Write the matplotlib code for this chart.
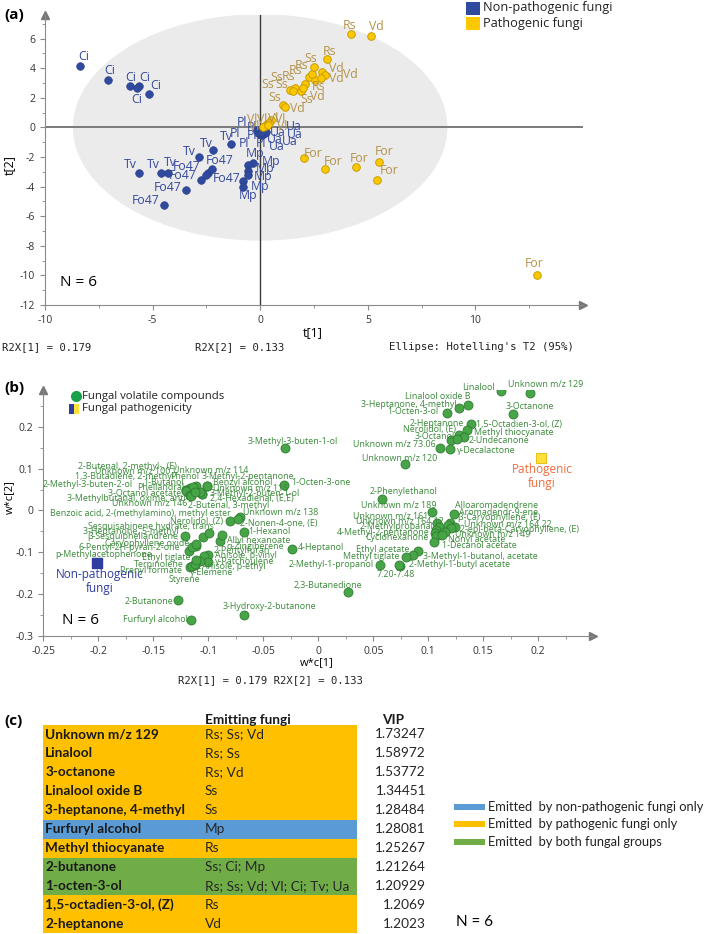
import numpy as np
import matplotlib
matplotlib.use('Agg')
import matplotlib.pyplot as plt
from matplotlib.patches import Ellipse, Rectangle
from matplotlib.ticker import FixedLocator

plt.rcParams.update({'font.family': ['Open Sans', 'DejaVu Sans'],
                     'axes.unicode_minus': False})

W, H = 707, 934

# ---------------- (a) PLS-DA scores ----------------
a_species = (['Ci'] * 6 + ['Tv'] * 6 + ['Fo47'] * 6 + ['Mp'] * 6 + ['Pl'] * 6 + ['Ua'] * 6
             + ['Rs'] * 6 + ['Ss'] * 6 + ['Vd'] * 6 + ['Vl'] * 6 + ['For'] * 6)
a_pathogenic = [0] * 36 + [1] * 30
a_t1 = [-8.37, -7.06, -6.03, -5.61, -5.18, -5.73,
        -5.65, -4.62, -4.30, -2.86, -2.20, -1.35,
        -2.74, -2.44, -2.23, -2.51, -3.47, -4.48,
        -0.34, -0.58, -0.58, -0.58, -0.81, -0.81,
        -0.15, -0.05, 0.00, -0.10, 0.05, -0.05,
        0.10, 0.20, 0.15, 0.10, 0.25, 0.05,
        4.20, 3.12, 2.29, 2.06, 2.55, 2.40,
        2.49, 1.60, 1.40, 1.52, 1.90, 1.05,
        5.16, 2.88, 3.00, 2.84, 2.00, 1.13,
        0.20, 0.51, 0.30, 0.40, 0.15, 0.35,
        2.03, 2.99, 4.45, 5.50, 5.44, 12.87]
a_t2 = [4.15, 3.22, 2.77, 2.77, 2.28, 2.70,
        -3.10, -3.06, -3.06, -2.00, -1.55, -1.10,
        -3.53, -3.08, -2.79, -3.20, -4.26, -5.27,
        -2.40, -2.57, -2.97, -3.20, -3.65, -4.03,
        -0.20, -0.30, -0.45, -0.35, -0.25, -0.15,
        -0.30, -0.40, -0.20, -0.50, -0.30, -0.35,
        6.31, 4.62, 3.40, 2.95, 3.20, 3.60,
        4.10, 2.66, 2.55, 2.48, 2.48, 1.51,
        6.17, 3.74, 3.55, 3.36, 2.70, 1.38,
        0.10, 0.47, 0.20, 0.30, 0.05, 0.15,
        -2.07, -2.81, -2.65, -2.36, -3.53, -9.95]
# label offsets in pixels (x right, y down) -- layout only
a_off = [(4, -10), (1, -9), (0, -9), (5, -9), (7, -8), (0, 12),
         (-8, -9), (-7, -8), (3, -10), (-9, -6), (-7, -7), (-5, -7),
         (25, -1), (12, -13), (-26, -2), (-24, 1), (-18, -3), (-18, -5),
         (2, -9), (23, -4), (17, -3), (15, 2), (17, 5), (5, 8),
         (-15, -8), (-7, -4), (-25, -1), (-6, 3), (-17, 12), (2, 14),
         (31, -5), (30, 1), (14, 2), (27, 7), (9, 8), (15, 14),
         (-1, -9), (2, -8), (-8, -12), (-16, -7), (3, 6), (-16, -4),
         (-3, -8), (-18, -11), (-23, -5), (-11, -6), (6, 9), (-8, -8),
         (5, -10), (14, -4), (26, 0), (15, 1), (14, 9), (13, 1),
         (-12, -6), (9, -1), (-4, -5), (4, -5), (-9, 0), (14, 1),
         (9, -5), (9, -8), (3, -8), (6, -11), (12, -9), (-3, -11)]

# ---------------- (b) loadings ----------------
b_names = ['Unknown m/z 129', 'Linalool', 'Linalool oxide B', '3-Heptanone, 4-methyl', '1-Octen-3-ol',
           '3-Octanone', '2-Heptanone', '1,5-Octadien-3-ol, (Z)', 'Nerolidol, (E)', 'Methyl thiocyanate',
           '3-Octanol', '2-Undecanone', 'Unknown m/z 73.06', 'γ-Decalactone', 'Unknown m/z 120',
           '2-Phenylethanol', 'Unknown m/z 189', 'Alloaromadendrene', 'Aromadendr-9-ene', 'Unknown m/z 161',
           'β-Caryophyllene, (E)', 'Unknown m/z 164.12', 'Unknown m/z 164.22', '2-Methylpropanal',
           '2-epi-beta-Caryophyllene, (E)', '4-Methyl-2-pentanone', 'Unknown m/z 149', 'Cyclohexanone',
           'Nonyl acetate', '1-Decanol acetate', 'Ethyl acetate', '3-Methyl-1-butanol, acetate',
           'Methyl tiglate', '2-Methyl-1-propanol', '2-Methyl-1-butyl acetate', '7.20-7.48',
           '2,3-Butanedione', '3-Methyl-3-buten-1-ol', '1-Octen-3-one', 'Unknown m/z 138', 'Nerolidol, (Z)',
           '2-Nonen-4-one, (E)', '1-Hexanol', 'Allyl hexanoate', 'α-Zingiberene', '4-Heptanol',
           '2-Pentylfuran', 'Anisole, p-vinyl', 'γ-Patchoulene', 'Anisole, p-ethyl', 'γ-Elemene', 'Styrene',
           'Terpinolene', 'Prenyl formate', 'Ethyl tiglate', 'p-Methylacetophenone', '6-Pentyl-2H-pyran-2-one',
           'Caryophyllene oxide', 'β-Sesquiphellandrene', '3-Heptanone, 5-methyl',
           'Sesquisabinene hydrate, trans', 'Benzoic acid, 2-(methylamino), methyl ester',
           '2-Butenal, 2-methyl-, (E)', 'Unknown m/z 100', 'Unknown m/z 114', '1,3-Butadiene, 2-methyl',
           'Phenol', '3-Methyl-2-pentanone', '2-Methyl-3-buten-2-ol', '1-Butanol', 'Benzyl alcohol',
           'Phellandral', 'Unknown m/z 115', '3-Octanol acetate', '3-Methyl-2-buten-1-ol',
           '3-Methylbutanal, oxime, anti', '2,4-Hexadienal, (E,E)', 'Unknown m/z 146', '2-Butenal, 3-methyl',
           '2-Butanone', 'Furfuryl alcohol', '3-Hydroxy-2-butanone']
b_w1 = [0.192, 0.166, 0.136, 0.128, 0.117, 0.177, 0.139, 0.135, 0.128, 0.132,
        0.121, 0.126, 0.111, 0.120, 0.079, 0.058, 0.103, 0.123, 0.120, 0.108,
        0.118, 0.110, 0.124, 0.107, 0.121, 0.106, 0.115, 0.107, 0.112, 0.105,
        0.091, 0.086, 0.080, 0.056, 0.074, 0.073, 0.027, -0.030, -0.031, -0.071,
        -0.080, -0.073, -0.068, -0.089, -0.088, -0.024, -0.100, -0.104, -0.100, -0.108,
        -0.112, -0.117, -0.115, -0.112, -0.111, -0.118, -0.111, -0.115, -0.111, -0.121,
        -0.105, -0.099, -0.117, -0.114, -0.111, -0.120, -0.117, -0.101, -0.120, -0.114,
        -0.101, -0.120, -0.106, -0.117, -0.106, -0.117, -0.108, -0.116, -0.112,
        -0.128, -0.116, -0.068]
b_w2 = [0.282, 0.286, 0.252, 0.244, 0.234, 0.230, 0.206, 0.193, 0.180, 0.176,
        0.168, 0.172, 0.149, 0.146, 0.110, 0.028, -0.004, -0.008, -0.030, -0.030,
        -0.035, -0.040, -0.040, -0.047, -0.042, -0.053, -0.052, -0.062, -0.058, -0.075,
        -0.098, -0.106, -0.112, -0.130, -0.132, -0.131, -0.196, 0.149, 0.062, -0.016,
        -0.024, -0.020, -0.052, -0.074, -0.058, -0.092, -0.106, -0.108, -0.122, -0.120,
        -0.130, -0.134, -0.132, -0.128, -0.118, -0.098, -0.084, -0.088, -0.080, -0.062,
        -0.064, -0.054, 0.054, 0.052, 0.058, 0.048, 0.038, 0.058, 0.050, 0.055,
        0.058, 0.046, 0.040, 0.038, 0.040, 0.036, 0.045, 0.034, 0.044,
        -0.214, -0.262, -0.249]
# label anchor (left, centre) in axis units -- layout only
b_lab_x = [0.172, 0.131, 0.079, 0.0385, 0.0627, 0.1706, 0.0834, 0.143, 0.0767, 0.1415,
           0.0879, 0.137, 0.0318, 0.1258, 0.0395, 0.047, 0.0388, 0.1243, 0.128, 0.0318,
           0.1273, 0.0343, 0.1327, 0.0373, 0.1288, 0.0167, 0.1243, 0.0425, 0.1182, 0.1127,
           0.0343, 0.0955, 0.0227, -0.0273, 0.0825, 0.0531, -0.0227, -0.0639, -0.0242, -0.0682,
           -0.1348, -0.0712, -0.0639, -0.0833, -0.0833, -0.0182, -0.0955, -0.0939, -0.0939, -0.106,
           -0.1166, -0.1364, -0.168, -0.180, -0.1605, -0.2394, -0.218, -0.194, -0.2105, -0.2136,
           -0.209, -0.244, -0.218, -0.203, -0.1318, -0.2212, -0.1348, -0.106, -0.2503, -0.1594,
           -0.0957, -0.165, -0.096, -0.191, -0.0985, -0.2288, -0.0985, -0.1878, -0.1182,
           -0.1757, -0.1773, -0.0869]
b_lab_y = [0.302, 0.294, 0.272, 0.254, 0.237, 0.248, 0.209, 0.206, 0.194, 0.186,
           0.176, 0.168, 0.158, 0.144, 0.125, 0.046, 0.012, 0.012, -0.004, -0.0144,
           -0.0175, -0.0264, -0.0336, -0.0376, -0.0456, -0.052, -0.0576, -0.0655, -0.0695, -0.084,
           -0.0935, -0.110, -0.110, -0.130, -0.130, -0.154, -0.180, 0.166, 0.068, -0.0055,
           -0.0257, -0.0319, -0.0496, -0.072, -0.0863, -0.0894, -0.096, -0.1086, -0.123, -0.134,
           -0.149, -0.164, -0.130, -0.144, -0.1134, -0.106, -0.088, -0.078, -0.0624, -0.0504,
           -0.0384, -0.008, 0.1055, 0.0935, 0.096, 0.0815, 0.0815, 0.0823, 0.0624, 0.0671,
           0.0679, 0.0559, 0.052, 0.0415, 0.040, 0.0295, 0.028, 0.0175, 0.012,
           -0.218, -0.261, -0.230]
group_w1 = [-0.201, 0.202]   # non-pathogenic, pathogenic
group_w2 = [-0.126, 0.126]

# ---------------- (c) VIP table ----------------
c_names = ['Unknown m/z 129', 'Linalool', '3-octanone', 'Linalool oxide B', '3-heptanone, 4-methyl',
           'Furfuryl alcohol', 'Methyl thiocyanate', '2-butanone', '1-octen-3-ol',
           '1,5-octadien-3-ol, (Z)', '2-heptanone']
c_fungi = ['Rs; Ss; Vd', 'Rs; Ss', 'Rs; Vd', 'Ss', 'Ss', 'Mp', 'Rs', 'Ss; Ci; Mp',
           'Rs; Ss; Vd; Vl; Ci; Tv; Ua', 'Rs', 'Vd']
c_vip = [1.73247, 1.58972, 1.53772, 1.34451, 1.28484, 1.28081, 1.25267, 1.21264, 1.20929, 1.2069, 1.2023]
c_group = ['path', 'path', 'path', 'path', 'path', 'nonpath', 'path', 'both', 'both', 'path', 'path']
c_colors = {'nonpath': '#5b9bd5', 'path': '#ffc000', 'both': '#70ad47'}
c_legend = [('nonpath', 'Emitted  by non-pathogenic fungi only'),
            ('path', 'Emitted  by pathogenic fungi only'),
            ('both', 'Emitted  by both fungal groups')]

BLUE, YEL, YEL_EDGE = '#2f4a9e', '#fcc800', '#c99d00'
BLUE_TXT, YEL_TXT, GREEN_TXT = '#34489c', '#b4934a', '#3a8a3a'

fig = plt.figure(figsize=(W / 100, H / 100), dpi=100)


def fx(px):
    return px / W


def fy(py):
    return 1 - py / H


def arrow_axes(ax, color='#8a8a8a'):
    for s in ['top', 'right']:
        ax.spines[s].set_visible(False)
    for s in ['left', 'bottom']:
        ax.spines[s].set_color(color)
    ax.plot(1, 0, '>', ms=6, color='#777777', transform=ax.transAxes, clip_on=False)
    ax.plot(0, 1, '^', ms=6, color='#777777', transform=ax.transAxes, clip_on=False)
    ax.tick_params(which='both', direction='out', color=color, labelsize=7.5, labelcolor='#333333')
    ax.tick_params(which='major', length=3.5)
    ax.tick_params(which='minor', length=2)


# ---- panel (a)
ax = fig.add_axes([fx(45), fy(305), fx(583) - fx(45), fy(15) - fy(305)])
ax.set_xlim(-10, 15)
ax.set_ylim(-12, 7.6)
ax.add_patch(Ellipse((0, 0), 17.4, 15.3, facecolor='#ebebeb', edgecolor='none', zorder=0))
ax.axhline(0, color='#7a7a7a', lw=1.4, zorder=1)
ax.axvline(0, color='#3a3a3a', lw=1.0, zorder=1)
arrow_axes(ax)
ax.xaxis.set_major_locator(FixedLocator([-10, -5, 0, 5, 10]))
ax.xaxis.set_minor_locator(FixedLocator([-7.5, -2.5, 2.5, 7.5, 12.5]))
ax.yaxis.set_major_locator(FixedLocator(list(range(-12, 7, 2))))
ax.yaxis.set_minor_locator(FixedLocator(list(range(-11, 8, 2))))

t1 = np.array(a_t1)
t2 = np.array(a_t2)
path = np.array(a_pathogenic) == 1
ax.scatter(t1[~path], t2[~path], s=30, color=BLUE, edgecolor='#27408a', lw=0.5, zorder=3)
ax.scatter(t1[path], t2[path], s=30, color=YEL, edgecolor=YEL_EDGE, lw=0.7, zorder=4)
for sp, x, y, p, (dx, dy) in zip(a_species, a_t1, a_t2, a_pathogenic, a_off):
    ax.annotate(sp, (x, y), xytext=(dx, -dy), textcoords='offset pixels', ha='center', va='center',
                fontsize=8.8, color=YEL_TXT if p else BLUE_TXT, zorder=5)

ax.text(-9.3, -10.5, 'N = 6', fontsize=11, va='center')
fig.text(fx(313), fy(333), 't[1]', fontsize=9, ha='center', va='center')
fig.text(fx(9), fy(165), 't[2]', fontsize=9, ha='center', va='center', rotation=90)
fig.text(fx(4), fy(15), '(a)', fontsize=11, fontweight='bold', va='center')
mono = dict(family='DejaVu Sans Mono', fontsize=7.7, va='center', color='#222222')
fig.text(fx(2), fy(347), 'R2X[1] = 0.179', **mono)
fig.text(fx(195), fy(347), 'R2X[2] = 0.133', **mono)
fig.text(fx(389), fy(347), "Ellipse: Hotelling's T2 (95%)", **mono)
for col, lab, yc in [(BLUE, 'Non-pathogenic fungi', 8), (YEL, 'Pathogenic fungi', 23.5)]:
    fig.add_artist(Rectangle((fx(466), fy(yc + 6.5)), 14 / W, 13 / H, transform=fig.transFigure,
                             facecolor=col, edgecolor='none'))
    fig.text(fx(483), fy(yc), lab, fontsize=9.2, va='center', color='#222222')

# ---- panel (b)
bx = fig.add_axes([fx(43.3), fy(636), fx(593.3) - fx(43.3), fy(390) - fy(636)])
bx.set_xlim(-0.25, 0.25)
bx.set_ylim(-0.3, 0.288)
arrow_axes(bx)
xt = [-0.25, -0.2, -0.15, -0.1, -0.05, 0, 0.05, 0.1, 0.15, 0.2]
yt = [-0.3, -0.2, -0.1, 0, 0.1, 0.2]
bx.set_xticks(xt)
bx.set_xticklabels([f'{v:g}' for v in xt])
bx.set_xticks([v + 0.025 for v in xt], minor=True)
bx.set_yticks(yt)
bx.set_yticklabels([f'{v:g}' for v in yt])
bx.set_yticks([v + 0.05 for v in yt[:-1]] + [0.25], minor=True)

bx.scatter(b_w1, b_w2, s=42, color='#47a447', edgecolor='#2f7d32', lw=0.6, zorder=3)
for name, lx, ly in zip(b_names, b_lab_x, b_lab_y):
    bx.text(lx, ly, name, fontsize=6.4, color=GREEN_TXT, ha='left', va='center', zorder=4)
bx.scatter(group_w1[:1], group_w2[:1], marker='s', s=55, color='#2e3d9e', zorder=5)
bx.scatter(group_w1[1:], group_w2[1:], marker='s', s=55, color='#ffe03a', edgecolor='#e8b800', lw=0.6, zorder=5)
bx.text(group_w1[0] + 0.0025, group_w2[0] - 0.012, 'Non-pathogenic\nfungi', fontsize=8.5, color='#2e3d9e',
        ha='center', va='top', linespacing=1.1)
bx.text(group_w1[1] + 0.0015, group_w2[1] - 0.012, 'Pathogenic\nfungi', fontsize=8.5, color='#f26b3a',
        ha='center', va='top', linespacing=1.1)
bx.text(-0.2333, -0.264, 'N = 6', fontsize=11, va='center')

fig.text(fx(4), fy(388), '(b)', fontsize=11, fontweight='bold', va='center')
fig.text(fx(9), fy(497), 'w*c[2]', fontsize=8, ha='center', va='center', rotation=90)
fig.text(fx(317), fy(663), 'w*c[1]', fontsize=8, ha='center', va='center')
fig.text(fx(178), fy(680), 'R2X[1] = 0.179 R2X[2] = 0.133', family='DejaVu Sans Mono', fontsize=7.6,
         va='center', color='#222222')
fig.lines.append(plt.Line2D([fx(76)], [fy(396)], marker='o', ms=7, color='#19a04a',
                            transform=fig.transFigure))
fig.text(fx(82), fy(396), 'Fungal volatile compounds', fontsize=8.2, va='center', color='#222222')
fig.add_artist(Rectangle((fx(68.5), fy(414)), 5 / W, 10 / H, transform=fig.transFigure, facecolor='#2e3d9e'))
fig.add_artist(Rectangle((fx(73.5), fy(414)), 5 / W, 10 / H, transform=fig.transFigure, facecolor='#ffe03a'))
fig.text(fx(82), fy(409), 'Fungal pathogenicity', fontsize=8.2, va='center', color='#222222')

# ---- panel (c)
n = len(c_names)
cx = fig.add_axes([fx(43.3), fy(933.3), fx(356.7) - fx(43.3), (933.3 - 725) / H])
cx.barh(np.arange(n), 1, height=1, left=0, color=[c_colors[g] for g in c_group])
cx.set_xlim(0, 1)
cx.set_ylim(n - 0.5, -0.5)
cx.axis('off')
tfont = dict(family=['Lato', 'DejaVu Sans'], fontsize=9.8, va='center')
for i, (nm, fg, v) in enumerate(zip(c_names, c_fungi, c_vip)):
    cx.text(0.006, i, nm, fontweight='bold', color='#1a1a1a', **tfont)
    cx.text(0.516, i, fg, color='#262626', **tfont)
    cx.text(1.221, i, f'{v:g}', ha='right', color='#262626', clip_on=False, **tfont)
cx.text(0.516, -0.78, 'Emitting fungi', fontweight='bold', color='#1a1a1a', **tfont)
cx.text(1.080, -0.78, 'VIP', fontweight='bold', color='#1a1a1a', **tfont)

fig.text(fx(4), fy(721), '(c)', fontsize=11, fontweight='bold', va='center')
for (g, lab), yc in zip(c_legend, [807, 824, 841.5]):
    fig.add_artist(Rectangle((fx(454), fy(yc + 3)), 31 / W, 6 / H, transform=fig.transFigure,
                             facecolor=c_colors[g], edgecolor='none'))
    fig.text(fx(488), fy(yc), lab, family=['Lato', 'DejaVu Sans'], fontsize=9.25, va='center', color='#222222')
fig.text(fx(456), fy(921.5), 'N = 6', family=['Lato', 'DejaVu Sans'], fontsize=11, va='center')

fig.savefig('out.png', dpi=100)
plt.close(fig)
